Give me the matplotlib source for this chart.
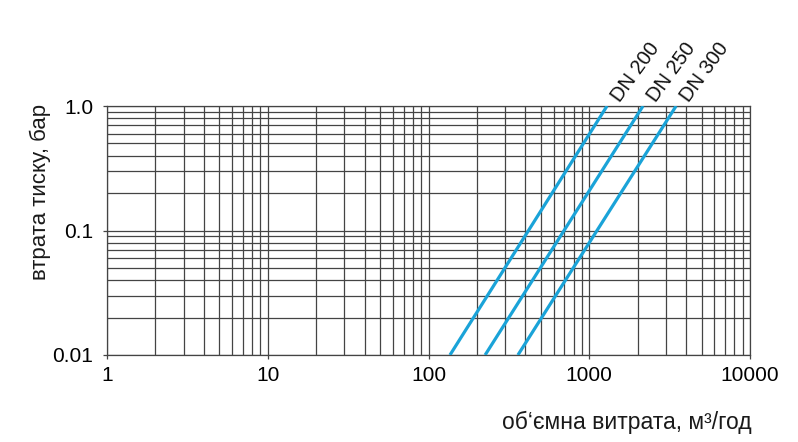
import matplotlib
matplotlib.use("Agg")
import matplotlib.pyplot as plt
from matplotlib.ticker import LogLocator, NullFormatter, FixedLocator

# Pressure loss curves: flow at dp = 0.01 and 1.0 bar
labels = ["DN 200", "DN 250", "DN 300"]
dp = [0.01, 1.0]
flow_dn200 = [136, 1290]
flow_dn250 = [225, 2160]
flow_dn300 = [360, 3470]
flows = [flow_dn200, flow_dn250, flow_dn300]

x_ticks = [1, 10, 100, 1000, 10000]
x_ticklabels = ["1", "10", "100", "1000", "10000"]
y_ticks = [0.01, 0.1, 1.0]
y_ticklabels = ["0.01", "0.1", "1.0"]

line_color = "#1aa3d8"
grid_color = "#444444"

plt.rcParams["font.family"] = ["Liberation Sans", "DejaVu Sans"]

fig = plt.figure(figsize=(7.98, 4.42), dpi=100)
ax = fig.add_axes([107 / 798, 87 / 442, 643 / 798, 249 / 442])

ax.set_xscale("log")
ax.set_yscale("log")
ax.set_xlim(1, 10000)
ax.set_ylim(0.01, 1.0)

for q, lab in zip(flows, labels):
    ax.plot(q, dp, color=line_color, lw=2.3, solid_capstyle="butt", zorder=3)
    ax.annotate(lab, xy=(q[1], dp[1]), xytext=(9, 2), textcoords="offset points",
                rotation=54, rotation_mode="anchor", ha="left", va="baseline",
                fontsize=14.5, color="#111111", annotation_clip=False)

ax.xaxis.set_major_locator(FixedLocator(x_ticks))
ax.set_xticklabels(x_ticklabels)
ax.yaxis.set_major_locator(FixedLocator(y_ticks))
ax.set_yticklabels(y_ticklabels)
ax.xaxis.set_minor_locator(LogLocator(base=10, subs=range(2, 10), numticks=20))
ax.yaxis.set_minor_locator(LogLocator(base=10, subs=range(2, 10), numticks=20))
ax.xaxis.set_minor_formatter(NullFormatter())
ax.yaxis.set_minor_formatter(NullFormatter())

ax.grid(True, which="both", color=grid_color, lw=0.9)
ax.tick_params(which="major", length=3, width=0.9, color=grid_color, labelsize=15)
ax.tick_params(axis="x", which="major", pad=5)
ax.tick_params(axis="y", which="major", pad=7)
ax.tick_params(which="minor", length=0)
for s in ax.spines.values():
    s.set_color(grid_color)
    s.set_linewidth(0.9)

fig.text(752 / 798, 1 - 422 / 442, "об\u2018ємна витрата, м³/год", ha="right", va="center",
         fontsize=16.5, color="#1a1a1a")
fig.text(40 / 798, 1 - 104 / 442, "втрата тиску, бар", ha="center", va="top",
         rotation=90, fontsize=16, color="#1a1a1a")

fig.savefig("out.png", dpi=100)
